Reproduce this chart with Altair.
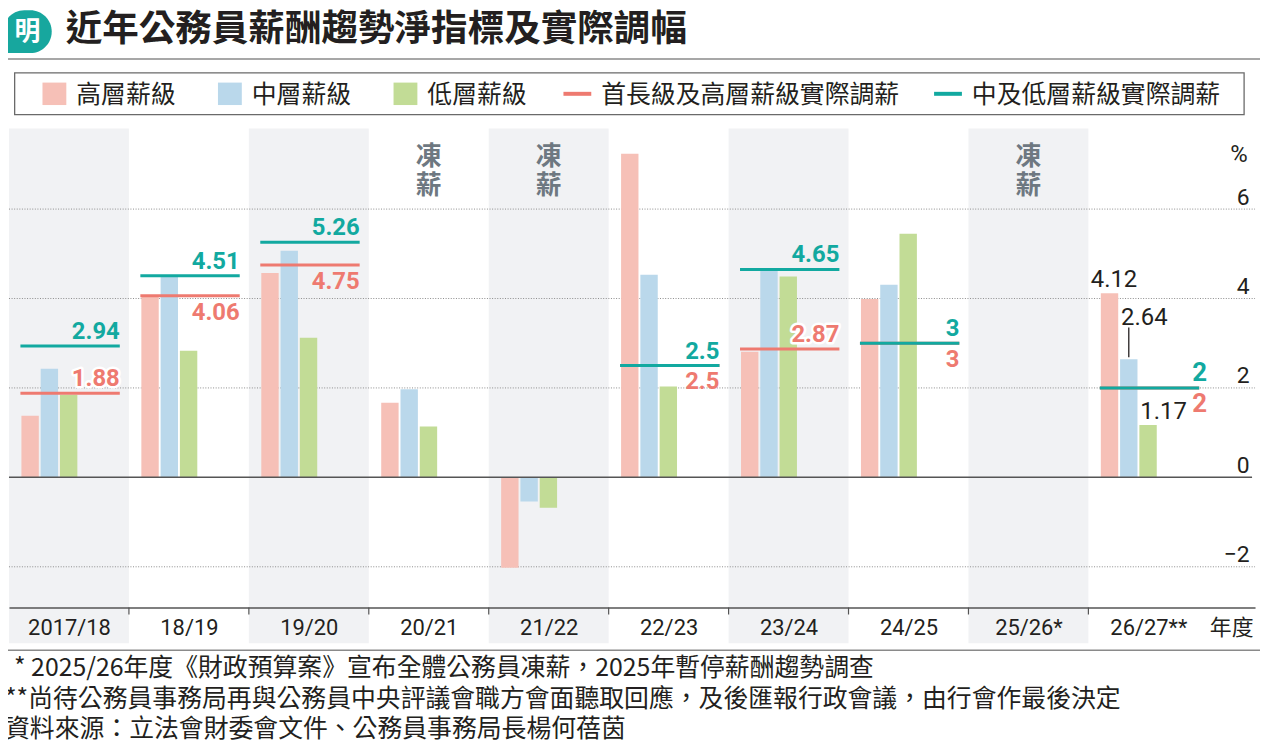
import json
import altair as alt
import pandas as pd

# ---------------- data ----------------
YEARS = ["2017/18", "18/19", "19/20", "20/21", "21/22", "22/23", "23/24", "24/25", "25/26*", "26/27**"]
HIGH = [1.38, 4.06, 4.57, 1.67, -2.02, 7.24, 2.81, 3.99, None, 4.12]
MID = [2.43, 4.49, 5.07, 1.97, -0.54, 4.53, 4.65, 4.31, None, 2.64]
LOW = [1.85, 2.83, 3.12, 1.14, -0.68, 2.03, 4.49, 5.45, None, 1.17]
ADJ_SENIOR = [1.88, 4.06, 4.75, None, None, 2.5, 2.87, 3, None, 2]
ADJ_MIDLOW = [2.94, 4.51, 5.26, None, None, 2.5, 4.65, 3, None, 2]
SERIES = ["高層薪級", "中層薪級", "低層薪級"]
ADJ_NAMES = ["首長級及高層薪級實際調薪", "中及低層薪級實際調薪"]
Y_TICKS = [-2, 0, 2, 4, 6]
FREEZE_TEXT = "凍\n薪"
TITLE = "近年公務員薪酬趨勢淨指標及實際調幅"
LOGO = "明"
X_TITLE = "年度"
Y_TITLE = "%"
NOTES = [
    "* 2025/26年度《財政預算案》宣布全體公務員凍薪，2025年暫停薪酬趨勢調查",
    "**尚待公務員事務局再與公務員中央評議會職方會面聽取回應，及後匯報行政會議，由行會作最後決定",
    "資料來源：立法會財委會文件、公務員事務局長楊何蓓茵",
]

# ---------------- styles / layout ----------------
BAR_COLORS = ["#F6C0B7", "#BAD8EB", "#C2DC96"]
RED = "#EE7A70"
TEAL = "#12A9A0"
BAND = "#F1F2F4"
INK = "#231F20"
FREEZE_GRAY = "#6E7881"
CJK = "Noto Sans CJK TC"
NUM = "Roboto"

W, H = 1254, 518
COLW = 120.7
ZERO_PX = 351.0
PXU = 45.0
BAR_OFF, BAR_W, BAR_STEP = 12.5, 17.5, 19.4
LINE_L, LINE_R = 11.5, 111.5
RED_ABOVE = {0, 6}          # columns where the red label sits above its line
LABEL_SHIFT = {9: 8}        # px shift right of the line-end labels
LABEL_SIZE = {9: 26}        # larger line-end labels in the last column
LAST = len(YEARS) - 1

xs = alt.Scale(domain=[0, W / COLW], nice=False, zero=False)
ys = alt.Scale(domain=[(ZERO_PX - H) / PXU, ZERO_PX / PXU], nice=False, zero=False)

XAX = alt.Axis(
    orient="bottom", offset=-36, values=[i + 0.5 for i in range(len(YEARS))],
    labelExpr=json.dumps(YEARS, ensure_ascii=False) + "[floor(datum.value)]",
    grid=False, ticks=False, tickSize=0, domain=True, domainColor="#555555", domainWidth=1.5,
    labelFont=NUM, labelFontSize=22, labelColor=INK, labelPadding=20, labelBaseline="middle",
    labelFlush=False, labelOverlap=False,
    title=X_TITLE, titleX=1252, titleY=20, titleAlign="right", titleBaseline="middle",
    titleFont=CJK, titleFontSize=22, titleFontWeight="normal", titleColor=INK, zindex=1,
)
YAX = alt.Axis(
    orient="right", values=Y_TICKS, grid=False, domain=False, ticks=False, tickSize=0,
    labelExpr="datum.value < 0 ? '\u2212' + abs(datum.value) : datum.label",
    labelAlign="right", labelBaseline="alphabetic", labelPadding=-6, labelOffset=-5,
    labelFont=NUM, labelFontSize=23, labelColor=INK, labelFlush=False,
    title=Y_TITLE, titleAngle=0, titleX=-8, titleY=26.5, titleAlign="right", titleBaseline="middle",
    titleFont=NUM, titleFontSize=24, titleFontWeight="normal", titleColor=INK, zindex=1,
)

# ---------------- tables ----------------
bands = pd.DataFrame({"x0": [i for i in range(0, len(YEARS), 2)]})
bands["x1"] = bands["x0"] + 1

grid = pd.DataFrame({"v": [v for v in Y_TICKS if v != 0]})
zero = pd.DataFrame({"v": [v for v in Y_TICKS if v == 0]})

bar_rows = []
for i, yr in enumerate(YEARS):
    for k, (name, vals) in enumerate(zip(SERIES, [HIGH, MID, LOW])):
        v = vals[i]
        if v is None:
            continue
        x0 = i + (BAR_OFF + k * BAR_STEP) / COLW
        bar_rows.append(dict(year=yr, series=name, k=k, value=v, x0=x0, x1=x0 + BAR_W / COLW,
                             xc=x0 + BAR_W / 2 / COLW, idx=i))
bars = pd.DataFrame(bar_rows)

line_rows = []
for i, yr in enumerate(YEARS):
    for name, vals in zip(ADJ_NAMES, [ADJ_SENIOR, ADJ_MIDLOW]):
        v = vals[i]
        if v is None:
            continue
        x1 = i + LINE_R / COLW
        line_rows.append(dict(year=yr, kind=name, value=v, x0=i + LINE_L / COLW, x1=x1,
                              lx=x1 + LABEL_SHIFT.get(i, 0) / COLW, label=f"{v:g}", idx=i,
                              fs=LABEL_SIZE.get(i, 24)))
lines = pd.DataFrame(line_rows)
red = lines[lines.kind == ADJ_NAMES[0]]
teal = lines[lines.kind == ADJ_NAMES[1]]
red_above = red[red.idx.isin(RED_ABOVE)]
red_below = red[~red.idx.isin(RED_ABOVE)]

frozen = pd.DataFrame({"xc": [i + 0.5 for i, v in enumerate(ADJ_MIDLOW) if v is None]})

last = bars[bars.idx == LAST].copy()
last["label"] = last["value"].map(lambda v: f"{v:g}")
last["lead0"] = last["value"] + 2 / PXU
last["lead1"] = last["value"] + 32 / PXU

ticks = pd.DataFrame({"x": list(range(1, len(YEARS)))})

one = pd.DataFrame({"a": [1]})


def X(f):
    return alt.X(f"{f}:Q", scale=xs)


def Y(f):
    return alt.Y(f"{f}:Q", scale=ys)


# ---------------- layers ----------------
layers = []

layers.append(alt.Chart(bands).mark_rect(color=BAND).encode(
    x=alt.X("x0:Q", scale=xs, axis=XAX), x2="x1:Q", y=alt.value(0), y2=alt.value(H)))

layers.append(alt.Chart(grid).mark_rule(color="#8C8C8C", strokeWidth=1, strokeDash=[1, 1.6]).encode(
    y=alt.Y("v:Q", scale=ys, axis=YAX), x=alt.value(0), x2=alt.value(W)))

layers.append(alt.Chart(bars).mark_rect().encode(
    x=X("x0"), x2="x1:Q", y=Y("value"), y2=alt.datum(0),
    color=alt.Color("series:N", scale=alt.Scale(domain=SERIES, range=BAR_COLORS), legend=None)))

layers.append(alt.Chart(zero).mark_rule(color="#555555", strokeWidth=1.5).encode(
    y=Y("v"), x=alt.value(0), x2=alt.value(W - 3)))

for df, col in [(red, RED), (teal, TEAL)]:
    layers.append(alt.Chart(df).mark_rule(color=col, strokeWidth=3).encode(
        x=X("x0"), x2="x1:Q", y=Y("value")))


def text_layers(df, xf, yf, tf, color, halo=False, sized=False, **mk):
    enc = dict(x=X(xf), y=Y(yf), text=alt.Text(f"{tf}:N"))
    if sized:
        enc["size"] = alt.Size("fs:Q", scale=None, legend=None)
    out = []
    if halo:
        out.append(alt.Chart(df).mark_text(color="white", stroke="white", strokeWidth=5,
                                           strokeJoin="round", **mk).encode(**enc))
    out.append(alt.Chart(df).mark_text(color=color, **mk).encode(**enc))
    return out


bold = dict(font=NUM, fontWeight="bold", align="right", baseline="alphabetic")
layers += text_layers(teal, "lx", "value", "label", TEAL, sized=True, dy=-7, **bold)
layers += text_layers(red_above, "lx", "value", "label", RED, halo=True, sized=True, dy=-7, **bold)
layers += text_layers(red_below, "lx", "value", "label", RED, sized=True, dy=24, **bold)

thin = dict(font=NUM, fontSize=24, fontWeight="normal", baseline="alphabetic")
layers += text_layers(last[last.k == 0], "xc", "value", "label", INK, align="center", dx=4.5, dy=-6, **thin)
layers += text_layers(last[last.k == 1], "x0", "value", "label", INK, align="left", dx=1, dy=-35, **thin)
layers += text_layers(last[last.k == 2], "x0", "value", "label", INK, align="left", dx=1, dy=-6, **thin)
layers.append(alt.Chart(last[last.k == 1]).mark_rule(color=INK, strokeWidth=1.3).encode(
    x=X("xc"), y=Y("lead0"), y2="lead1:Q"))

layers.append(alt.Chart(frozen).mark_text(
    text=FREEZE_TEXT, lineBreak="\n", lineHeight=29.5, font=CJK, fontSize=26, fontWeight="bold",
    align="center", baseline="middle", color=FREEZE_GRAY).encode(x=X("xc"), y=alt.value(28.5)))

layers.append(alt.Chart(ticks).mark_rule(color="#555555", strokeWidth=1.2).encode(
    x=X("x"), y=alt.value(H - 36), y2=alt.value(H - 29)))

# ---------------- header / legend / notes ----------------
layers.append(alt.Chart(one).mark_rect(color="#17A79E", cornerRadiusTopLeft=22, cornerRadiusTopRight=22,
                                       cornerRadiusBottomRight=22, cornerRadiusBottomLeft=2).encode(
    x=alt.value(-6), x2=alt.value(43), y=alt.value(-119), y2=alt.value(-76)))
layers.append(alt.Chart(one).mark_text(text=LOGO, font=CJK, fontSize=26, fontWeight="bold", color="white",
                                       align="center", baseline="middle").encode(
    x=alt.value(18.5), y=alt.value(-97.5)))
layers.append(alt.Chart(one).mark_text(text=TITLE, font=CJK, fontSize=36.8, fontWeight="bold", color=INK,
                                       align="left", baseline="middle").encode(
    x=alt.value(57), y=alt.value(-99)))
layers.append(alt.Chart(one).mark_rule(color="#8A8A8A", strokeWidth=1.5).encode(
    x=alt.value(-9), x2=alt.value(1259), y=alt.value(-70)))

layers.append(alt.Chart(one).mark_rect(fill="white", fillOpacity=0, stroke="#6A6A6A", strokeWidth=1.3).encode(
    x=alt.value(5.7), x2=alt.value(1243), y=alt.value(-56), y2=alt.value(-14)))

SQ_X = [33.7, 210.3, 387.0]
for name, col, sx in zip(SERIES, BAR_COLORS, SQ_X):
    layers.append(alt.Chart(one).mark_rect(color=col).encode(
        x=alt.value(sx), x2=alt.value(sx + 24), y=alt.value(-46.3), y2=alt.value(-23.7)))
    layers.append(alt.Chart(one).mark_text(text=name, font=CJK, fontSize=25, color=INK,
                                           align="left", baseline="middle").encode(
        x=alt.value(sx + 34), y=alt.value(-34)))
LN_X = [558.0, 931.0]
for name, col, lx in zip(ADJ_NAMES, [RED, TEAL], LN_X):
    layers.append(alt.Chart(one).mark_rule(color=col, strokeWidth=4).encode(
        x=alt.value(lx), x2=alt.value(lx + 28), y=alt.value(-35)))
    layers.append(alt.Chart(one).mark_text(text=name, font=CJK, fontSize=25, color=INK,
                                           align="left", baseline="middle").encode(
        x=alt.value(lx + 38), y=alt.value(-34)))

layers.append(alt.Chart(one).mark_rule(color="#8A8A8A", strokeWidth=1.5).encode(
    x=alt.value(-9), x2=alt.value(1259), y=alt.value(525)))
NOTE_X = [5, -4, -4]
NOTE_Y = [543, 574, 604]
for t, nx, ny in zip(NOTES, NOTE_X, NOTE_Y):
    layers.append(alt.Chart(one).mark_text(text=t, font=CJK, fontSize=25, color=INK,
                                           align="left", baseline="middle").encode(
        x=alt.value(nx), y=alt.value(ny)))

chart = alt.layer(*layers).properties(
    width=W, height=H,
    autosize=alt.AutoSizeParams(type="none"),
    padding={"left": 1, "top": 119, "right": 5, "bottom": 103},
    background="white",
).configure_view(stroke=None)

chart.save("out.html", embed_options={"renderer": "svg", "actions": False})
